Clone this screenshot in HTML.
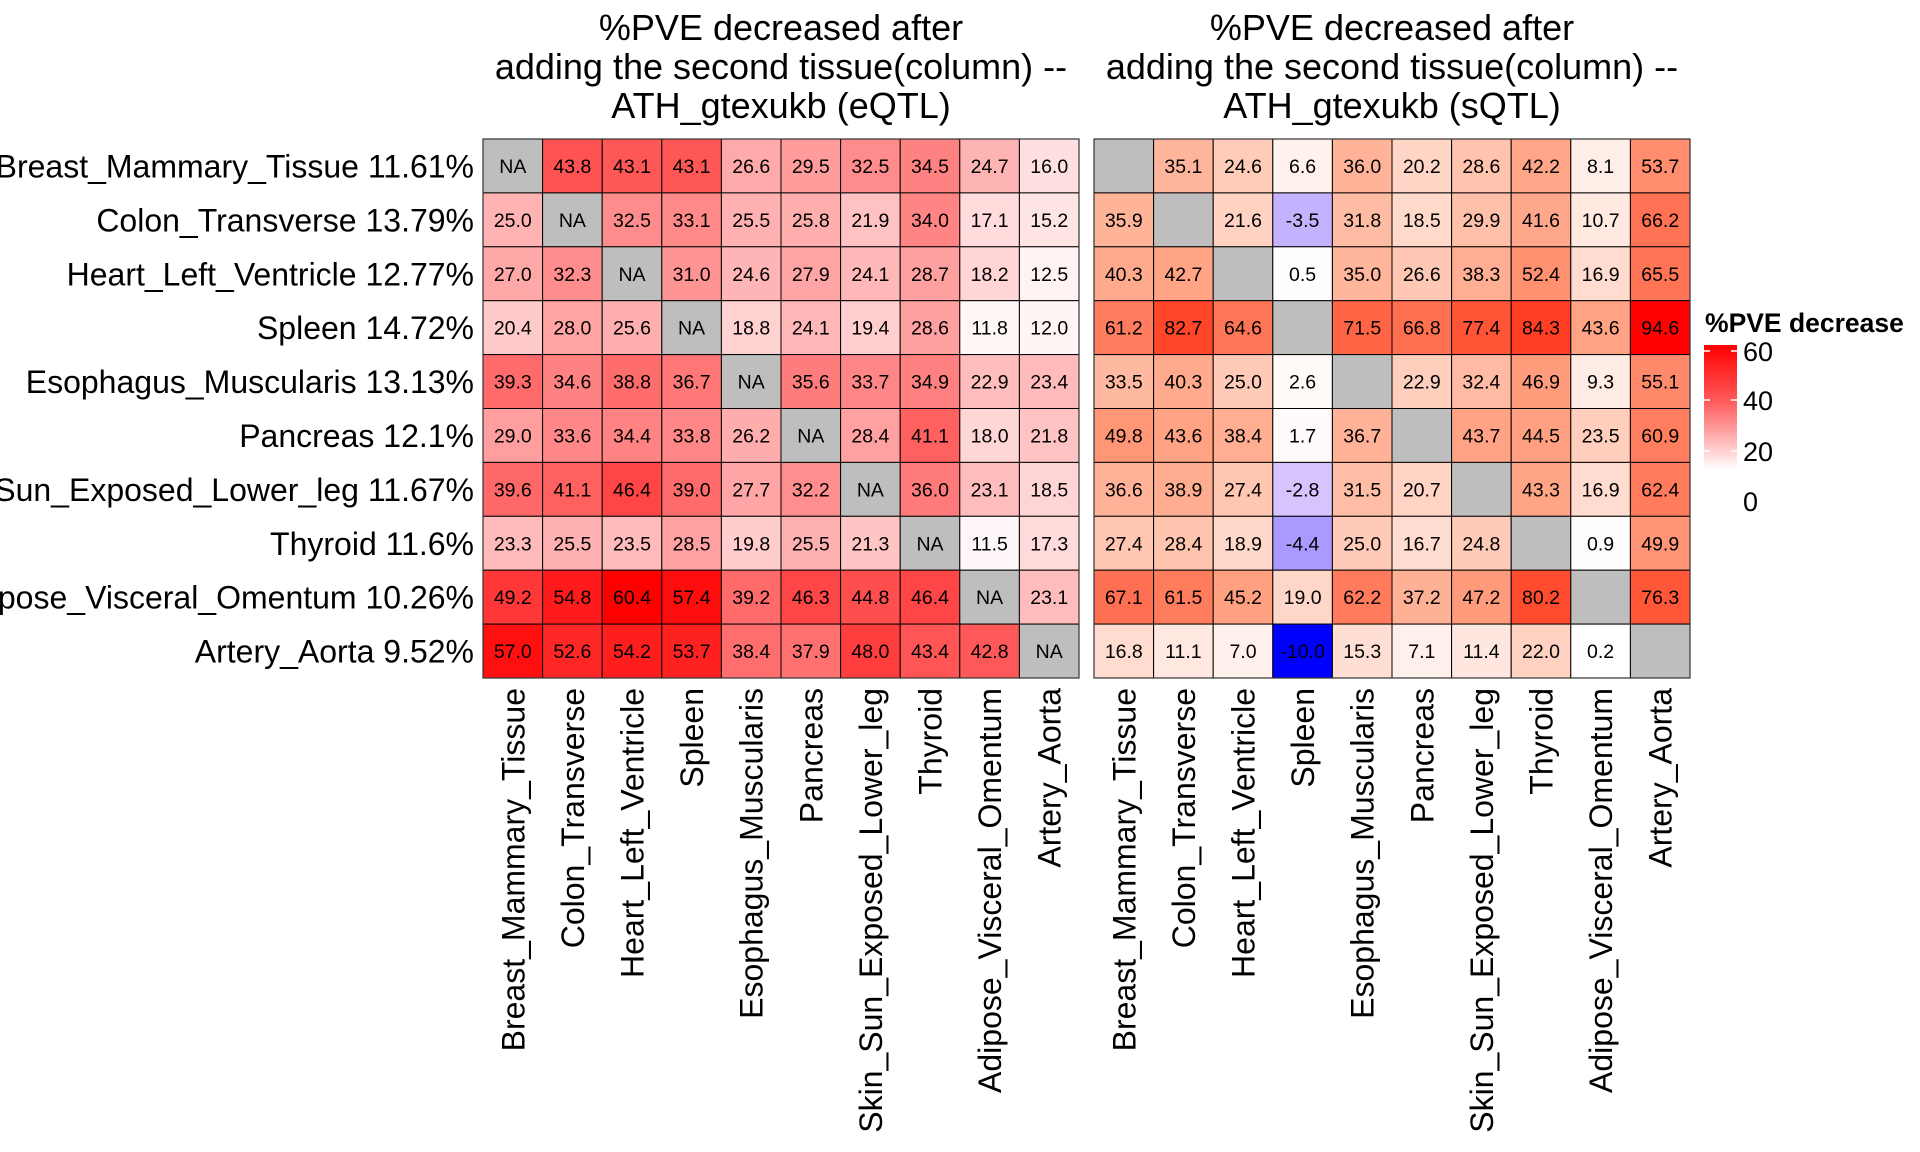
<!DOCTYPE html>
<html><head><meta charset="utf-8">
<style>
html,body{margin:0;padding:0;background:#fff;}
svg{display:block;font-family:"Liberation Sans",Arial,sans-serif;}
</style></head>
<body>
<svg id="chart" width="1920" height="1152" viewBox="0 0 1920 1152" xmlns="http://www.w3.org/2000/svg">
<defs>
<linearGradient id="lg" x1="0" y1="0" x2="0" y2="1">
<stop offset="0" stop-color="#ff0000"/>
<stop offset="0.45" stop-color="#ff5a5a"/>
<stop offset="1" stop-color="#ffffff"/>
</linearGradient>
</defs>
<g id="left"></g>
<g id="right"></g>
<g id="rowlabels"></g>
<g font-size="36" text-anchor="middle" fill="#000">
<text x="781" y="40">%PVE decreased after</text>
<text x="781" y="79">adding the second tissue(column) --</text>
<text x="781" y="118">ATH_gtexukb (eQTL)</text>
</g>
<g font-size="36" text-anchor="middle" fill="#000">
<text x="1392" y="40">%PVE decreased after</text>
<text x="1392" y="79">adding the second tissue(column) --</text>
<text x="1392" y="118">ATH_gtexukb (sQTL)</text>
</g>
<g>
<text x="1705" y="332" font-size="26.5" font-weight="bold">%PVE decrease</text>
<rect x="1704" y="345" width="33" height="125" fill="url(#lg)"/>
<g stroke="#fff" stroke-width="1.5">
<line x1="1704" y1="351" x2="1710" y2="351"/><line x1="1731" y1="351" x2="1737" y2="351"/>
<line x1="1704" y1="400" x2="1710" y2="400"/><line x1="1731" y1="400" x2="1737" y2="400"/>
<line x1="1704" y1="451" x2="1710" y2="451"/><line x1="1731" y1="451" x2="1737" y2="451"/>
</g>
<g font-size="27" fill="#000">
<text x="1743" y="361">60</text>
<text x="1743" y="410">40</text>
<text x="1743" y="461">20</text>
<text x="1743" y="511">0</text>
</g>
</g>
</svg>
<script>
const rowNames = ["Breast_Mammary_Tissue 11.61%","Colon_Transverse 13.79%","Heart_Left_Ventricle 12.77%","Spleen 14.72%","Esophagus_Muscularis 13.13%","Pancreas 12.1%","Skin_Sun_Exposed_Lower_leg 11.67%","Thyroid 11.6%","Adipose_Visceral_Omentum 10.26%","Artery_Aorta 9.52%"];
const colNames = ["Breast_Mammary_Tissue","Colon_Transverse","Heart_Left_Ventricle","Spleen","Esophagus_Muscularis","Pancreas","Skin_Sun_Exposed_Lower_leg","Thyroid","Adipose_Visceral_Omentum","Artery_Aorta"];
const eqtl = [
[null,43.8,43.1,43.1,26.6,29.5,32.5,34.5,24.7,16.0],
[25.0,null,32.5,33.1,25.5,25.8,21.9,34.0,17.1,15.2],
[27.0,32.3,null,31.0,24.6,27.9,24.1,28.7,18.2,12.5],
[20.4,28.0,25.6,null,18.8,24.1,19.4,28.6,11.8,12.0],
[39.3,34.6,38.8,36.7,null,35.6,33.7,34.9,22.9,23.4],
[29.0,33.6,34.4,33.8,26.2,null,28.4,41.1,18.0,21.8],
[39.6,41.1,46.4,39.0,27.7,32.2,null,36.0,23.1,18.5],
[23.3,25.5,23.5,28.5,19.8,25.5,21.3,null,11.5,17.3],
[49.2,54.8,60.4,57.4,39.2,46.3,44.8,46.4,null,23.1],
[57.0,52.6,54.2,53.7,38.4,37.9,48.0,43.4,42.8,null]];
const sqtl = [
[null,35.1,24.6,6.6,36.0,20.2,28.6,42.2,8.1,53.7],
[35.9,null,21.6,-3.5,31.8,18.5,29.9,41.6,10.7,66.2],
[40.3,42.7,null,0.5,35.0,26.6,38.3,52.4,16.9,65.5],
[61.2,82.7,64.6,null,71.5,66.8,77.4,84.3,43.6,94.6],
[33.5,40.3,25.0,2.6,null,22.9,32.4,46.9,9.3,55.1],
[49.8,43.6,38.4,1.7,36.7,null,43.7,44.5,23.5,60.9],
[36.6,38.9,27.4,-2.8,31.5,20.7,null,43.3,16.9,62.4],
[27.4,28.4,18.9,-4.4,25.0,16.7,24.8,null,0.9,49.9],
[67.1,61.5,45.2,19.0,62.2,37.2,47.2,80.2,null,76.3],
[16.8,11.1,7.0,-10.0,15.3,7.1,11.4,22.0,0.2,null]];

const NS = "http://www.w3.org/2000/svg";
const cellW = 59.6, cellH = 53.9, topY = 139;
function mk(tag, attrs, parent){ const e=document.createElementNS(NS,tag); for(const k in attrs) e.setAttribute(k,attrs[k]); parent.appendChild(e); return e; }
function colL(v){ let t=(v-10)/50; t=Math.max(0,Math.min(1,t)); const g=Math.round(255*(1-t)); return `rgb(255,${g},${g})`; }
const stops=[[0,[255,255,255]],[25,[255,203,184]],[45,[255,160,128]],[65,[255,117,86]],[83,[255,69,39]],[95,[255,0,0]]];
const nstops=[[0,[255,255,255]],[3,[212,192,255]],[10,[0,0,255]]];
function lerp(st,v){
  for(let i=1;i<st.length;i++){ if(v<=st[i][0]){ const a=st[i-1],b=st[i]; const t=(v-a[0])/(b[0]-a[0]); const c=a[1].map((x,j)=>Math.round(x+(b[1][j]-x)*t)); return `rgb(${c[0]},${c[1]},${c[2]})`; } }
  const l=st[st.length-1][1]; return `rgb(${l[0]},${l[1]},${l[2]})`;
}
function colR(v){ return v<0 ? lerp(nstops,-v) : lerp(stops,v); }
function draw(gid, data, x0, colorFn, showNA, prefix){
  const g=document.getElementById(gid);
  data.forEach((row,r)=>row.forEach((v,c)=>{
    const x=x0+c*cellW, y=topY+r*cellH;
    const rect=mk("rect",{x:x,y:y,width:cellW,height:cellH,fill:v===null?"#bebebe":colorFn(v),stroke:"#000","stroke-width":1},g);
    
    
    if(v!==null||showNA){
      const t=mk("text",{x:x+cellW/2,y:y+cellH/2+7,"text-anchor":"middle","font-size":19.5,fill:"#000"},g);
      t.textContent=v===null?"NA":v.toFixed(1);
      
      
    }
  }));
  mk("rect",{x:x0,y:topY,width:cellW*10,height:cellH*10,fill:"none",stroke:"#333","stroke-width":1.2},g);
  colNames.forEach((n,c)=>{
    const cx=x0+c*cellW+cellW/2+11.5;
    const t=mk("text",{x:0,y:0,transform:`translate(${cx},688) rotate(-90)`,"text-anchor":"end","font-size":32,fill:"#000"},g);
    t.textContent=n;
    
    
  });
}
draw("left", eqtl, 483, colL, true, "eqtl");
draw("right", sqtl, 1094, colR, false, "sqtl");
const rl=document.getElementById("rowlabels");
rowNames.forEach((n,r)=>{
  const t=mk("text",{x:474,y:topY+r*cellH+cellH/2+11.5,"text-anchor":"end","font-size":32,fill:"#000"},rl);
  t.textContent=n;
  
  
});
</script>
</body></html>
